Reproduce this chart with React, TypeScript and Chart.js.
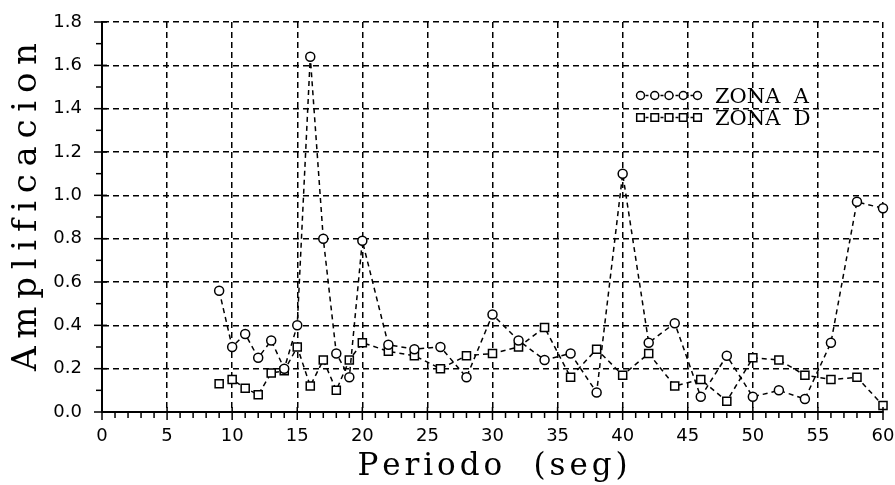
import React, { useEffect, useRef } from "react";
import { Chart, registerables } from "chart.js";

Chart.register(...registerables);

// ---- data ----
const periods = [9, 10, 11, 12, 13, 14, 15, 16, 17, 18, 19, 20, 22, 24, 26, 28, 30, 32, 34, 36, 38, 40, 42, 44, 46, 48, 50, 52, 54, 56, 58, 60];
const zonaA = [0.56, 0.30, 0.36, 0.25, 0.33, 0.20, 0.40, 1.64, 0.80, 0.27, 0.16, 0.79, 0.31, 0.29, 0.30, 0.16, 0.45, 0.33, 0.24, 0.27, 0.09, 1.10, 0.32, 0.41, 0.07, 0.26, 0.07, 0.10, 0.06, 0.32, 0.97, 0.94];
const zonaD = [0.13, 0.15, 0.11, 0.08, 0.18, 0.19, 0.30, 0.12, 0.24, 0.10, 0.24, 0.32, 0.28, 0.26, 0.20, 0.26, 0.27, 0.30, 0.39, 0.16, 0.29, 0.17, 0.27, 0.12, 0.15, 0.05, 0.25, 0.24, 0.17, 0.15, 0.16, 0.03];
const seriesLabels = ["ZONA  A", "ZONA  D"];
const seriesMarkers = ["circle", "rect"];
const xTitle = "Periodo  (seg)";
const yTitle = "Amplificacion";
const xMin = 0, xMax = 60, xMajor = 5, xMinor = 1;
const yMin = 0, yMax = 1.8, yMajor = 0.2, yMinor = 0.1;

function drawSpaced(ctx: CanvasRenderingContext2D, text: string, cx: number, y: number, targetWidth: number) {
  const chars = Array.from(text);
  const widths = chars.map((c) => ctx.measureText(c).width);
  const raw = widths.reduce((a, b) => a + b, 0);
  const spacing = Math.max(0, (targetWidth - raw) / (chars.length - 1));
  const total = raw + spacing * (chars.length - 1);
  let x = cx - total / 2;
  ctx.textAlign = "left";
  chars.forEach((c, i) => {
    ctx.fillText(c, x, y);
    x += widths[i] + spacing;
  });
}

function drawMarker(ctx: CanvasRenderingContext2D, style: string, x: number, y: number) {
  ctx.beginPath();
  if (style === "circle") {
    ctx.arc(x, y, 4, 0, Math.PI * 2);
  } else {
    ctx.rect(x - 3.8, y - 3.8, 7.6, 7.6);
  }
  ctx.fillStyle = "#fff";
  ctx.fill();
  ctx.stroke();
}

const decorPlugin = {
  id: "decor",
  afterDraw(chart: any) {
    const ctx: CanvasRenderingContext2D = chart.ctx;
    const xs = chart.scales.x;
    const ys = chart.scales.y;
    const { left, right, top, bottom } = chart.chartArea;
    ctx.save();
    ctx.strokeStyle = "#000";
    ctx.lineWidth = 1.5;
    ctx.setLineDash([]);
    // x ticks (minor + major)
    const nx = Math.round((xMax - xMin) / xMinor);
    for (let i = 0; i <= nx; i++) {
      const v = xMin + i * xMinor;
      const px = xs.getPixelForValue(v);
      const major = Math.abs(v / xMajor - Math.round(v / xMajor)) < 1e-6;
      ctx.beginPath();
      ctx.moveTo(px, major ? bottom - 5 : bottom);
      ctx.lineTo(px, bottom + (major ? 8 : 6));
      ctx.stroke();
    }
    // y ticks
    const ny = Math.round((yMax - yMin) / yMinor);
    for (let i = 0; i <= ny; i++) {
      const v = yMin + i * yMinor;
      const py = ys.getPixelForValue(v);
      const major = Math.abs(v / yMajor - Math.round(v / yMajor)) < 1e-6;
      ctx.beginPath();
      ctx.moveTo(left - (major ? 8 : 6), py);
      ctx.lineTo(major ? left + 5 : left, py);
      ctx.stroke();
    }
    // axis titles
    ctx.fillStyle = "#000";
    ctx.textBaseline = "alphabetic";
    ctx.font = '31px "DejaVu Serif"';
    drawSpaced(ctx, xTitle, (left + right) / 2, 475, 270);
    ctx.save();
    ctx.translate(36, (top + bottom) / 2 - 10);
    ctx.rotate(-Math.PI / 2);
    ctx.font = '34px "DejaVu Serif"';
    drawSpaced(ctx, yTitle, 0, 0, 328);
    ctx.restore();
    // legend
    ctx.font = '21px "DejaVu Serif"';
    seriesLabels.forEach((lab, i) => {
      const y = 95.5 + 22 * i;
      ctx.lineWidth = 1.5;
      ctx.setLineDash([3, 2]);
      ctx.beginPath();
      ctx.moveTo(640.5, y);
      ctx.lineTo(697.5, y);
      ctx.stroke();
      ctx.setLineDash([]);
      for (let k = 0; k < 5; k++) {
        drawMarker(ctx, seriesMarkers[i], 640.5 + k * 14.25, y);
      }
      ctx.fillStyle = "#000";
      ctx.textAlign = "left";
      ctx.fillText(lab, 715, y + 7.5);
    });
    ctx.restore();
  },
};

export default function App() {
  const ref = useRef<HTMLCanvasElement | null>(null);
  useEffect(() => {
    if (!ref.current) return;
    const mk = (vals: number[], i: number) => ({
      label: seriesLabels[i],
      data: periods.map((p, k) => ({ x: p, y: vals[k] })),
      borderColor: "#000",
      borderWidth: 1.5,
      borderDash: [5, 4],
      pointStyle: seriesMarkers[i],
      pointRadius: i === 0 ? 4.5 : 5.7,
      pointBorderWidth: 1.5,
      pointBackgroundColor: "#fff",
      pointBorderColor: "#000",
      fill: false,
      tension: 0,
      clip: false as any,
    });
    const chart = new Chart(ref.current, {
      type: "line",
      data: { datasets: [mk(zonaA, 0), mk(zonaD, 1)] as any },
      options: {
        responsive: false,
        animation: false,
        devicePixelRatio: 1,
        layout: { padding: { left: 0, right: 0, top: 22, bottom: 0 } },
        plugins: { legend: { display: false }, tooltip: { enabled: false } },
        scales: {
          x: {
            type: "linear",
            min: xMin,
            max: xMax,
            ticks: { stepSize: xMajor, color: "#000", font: { family: "DejaVu Sans", size: 18 }, padding: 14, maxRotation: 0 },
            grid: { color: "#000", lineWidth: 1.5, drawTicks: false },
            border: { display: true, color: "#000", width: 2, dash: [6, 4] },
            afterFit: (s: any) => { s.height = 73; s.paddingLeft = 0; s.paddingRight = 12; },
          },
          y: {
            type: "linear",
            min: yMin,
            max: yMax,
            ticks: { stepSize: yMajor, color: "#000", font: { family: "DejaVu Sans", size: 18 }, padding: 20, callback: (v: any) => Number(v).toFixed(1) },
            grid: { color: "#000", lineWidth: 1.5, drawTicks: false },
            border: { display: true, color: "#000", width: 2, dash: [6, 4] },
            afterFit: (s: any) => { s.width = 102; s.paddingTop = 0; s.paddingBottom = 0; },
          },
        },
      } as any,
      plugins: [decorPlugin],
    });
    return () => chart.destroy();
  }, []);
  return (
    <div style={{ position: "fixed", left: 0, top: 0, width: 895, height: 485, background: "#fff" }}>
      <canvas ref={ref} width={895} height={485} style={{ display: "block" }} />
    </div>
  );
}
